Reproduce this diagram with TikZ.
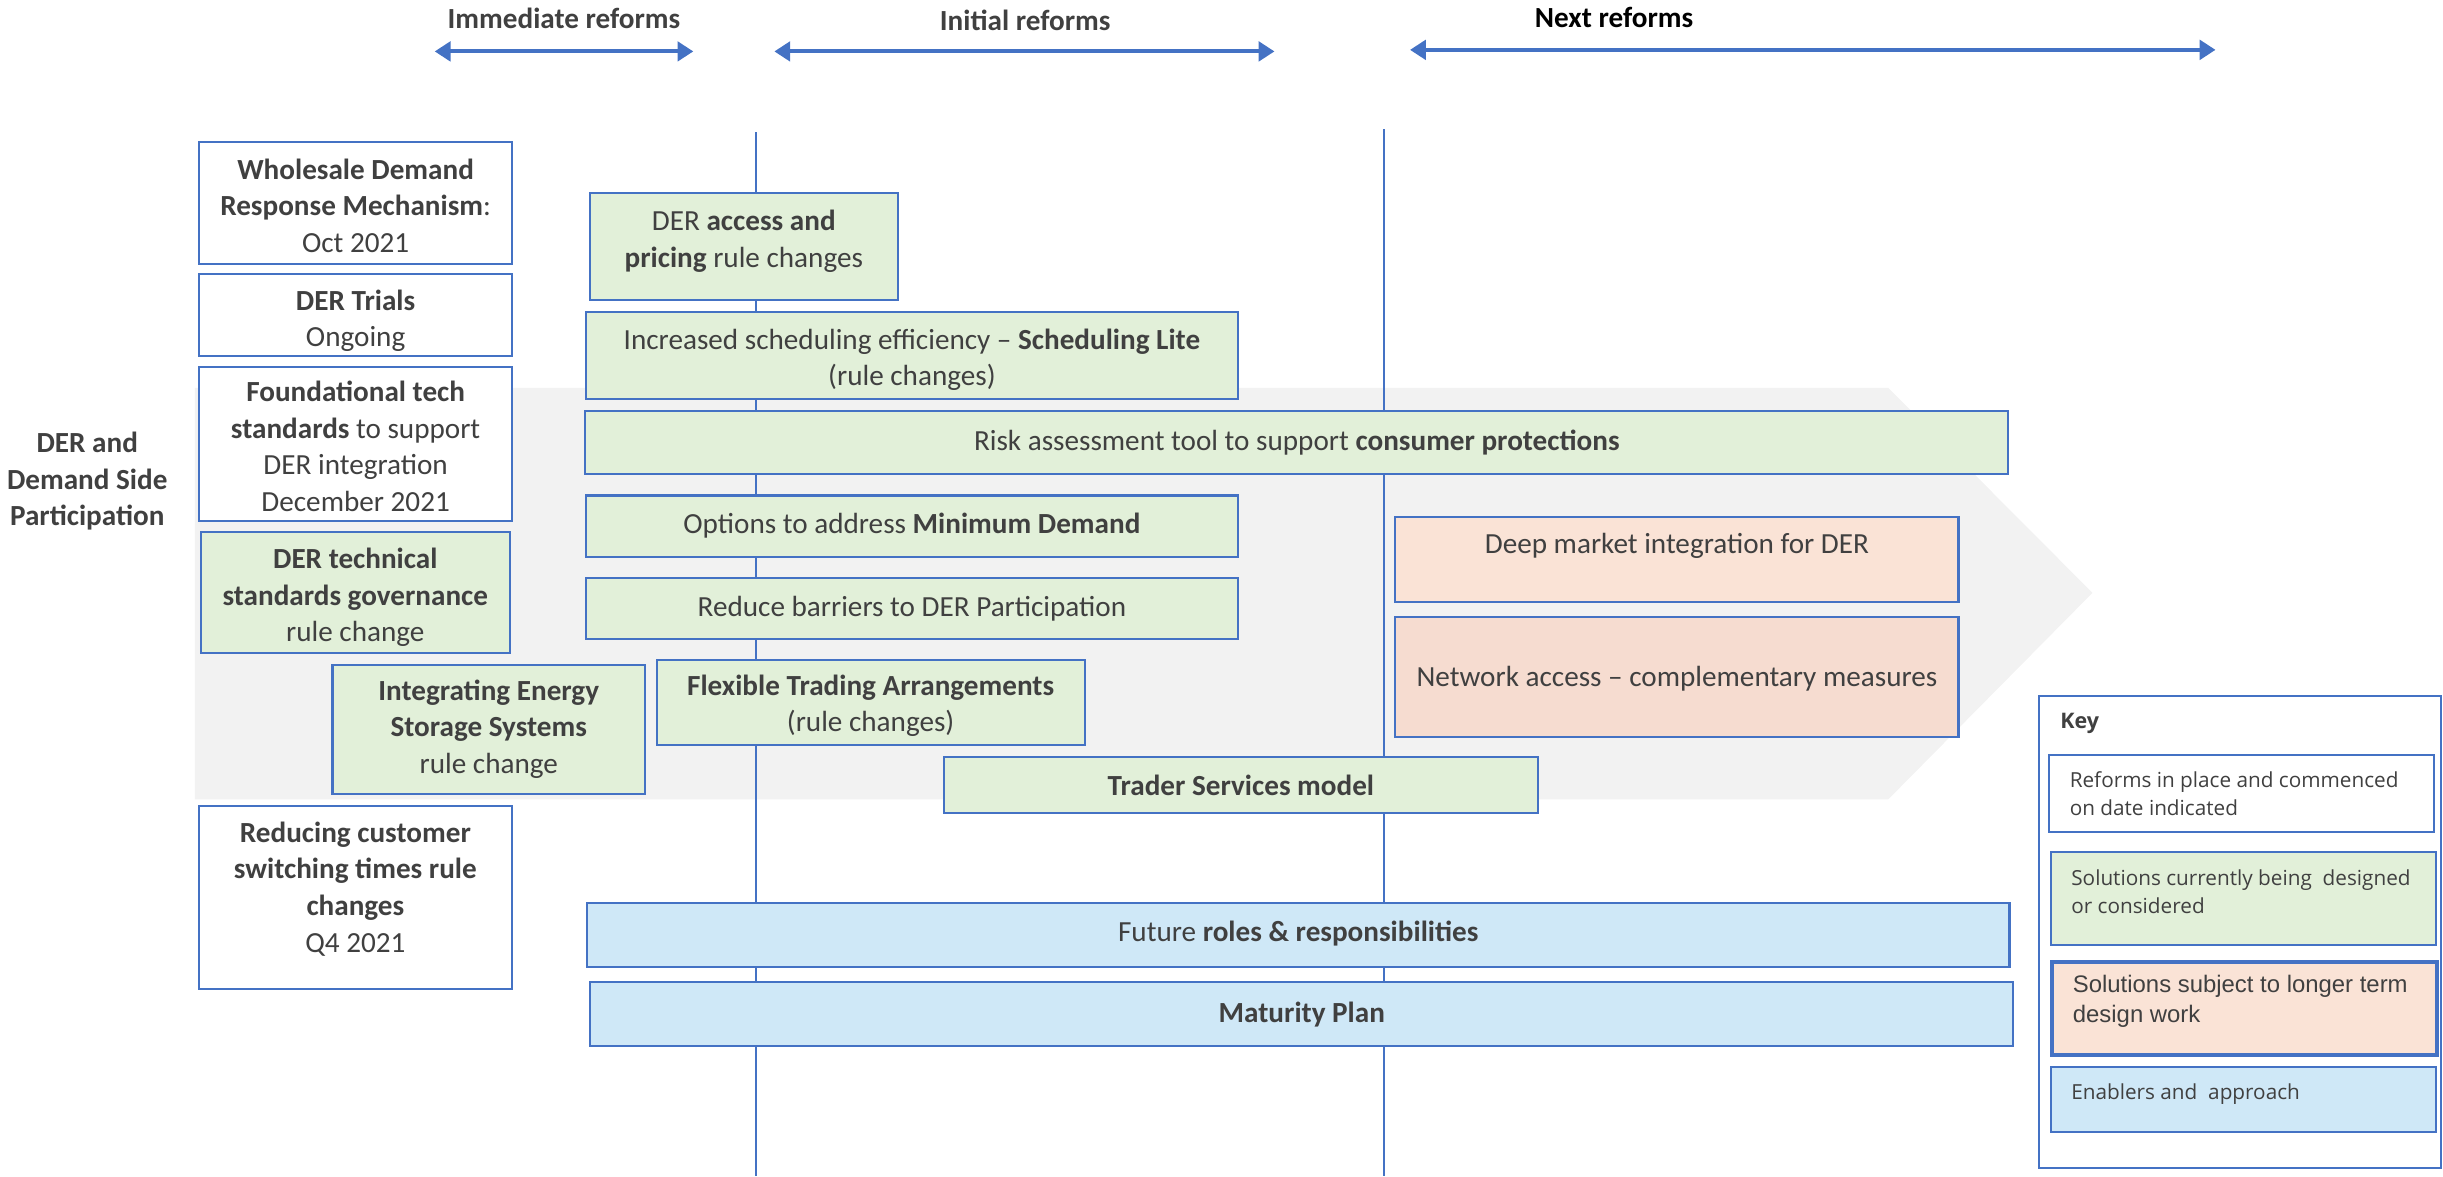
\documentclass[tikz,border=0pt]{standalone}
\usepackage{fontspec}
\setmainfont{Carlito}
\newfontfamily\keyfont{Open Sans}
\newfontfamily\keyfontb{Liberation Sans}
\usetikzlibrary{arrows.meta}
\definecolor{bord}{HTML}{4472C4}
\definecolor{txt}{HTML}{404040}
\definecolor{grn}{HTML}{E2F0D9}
\definecolor{pchA}{HTML}{FAE3D6}
\definecolor{pchB}{HTML}{F6DCD0}
\definecolor{lblue}{HTML}{CFE8F7}
\definecolor{chev}{HTML}{F2F2F2}
\newcommand\mtext{\fontsize{8.3}{10.4}\selectfont}
\newcommand\ktext{\keyfont\fontsize{5.9}{8.1}\selectfont}
% box with centred text
\newcommand\bx[7]{\node[#1, minimum width={(#5-(#3))*0.4433pt}, minimum height={(#6-(#4))*0.4433pt}] (#2) at ({(#3+#5)/2},{(#4+#6)/2}) {#7};}
% box with text placed at a given height
\newcommand\bt[8]{\node[#1, minimum width={(#5-(#3))*0.4433pt}, minimum height={(#6-(#4))*0.4433pt}] (#2) at ({(#3+#5)/2},{(#4+#6)/2}) {};
  \node[align=center] (#2-t) at ({(#3+#5)/2},#7) {#8};}
\begin{document}
\begin{tikzpicture}[x=0.0155804cm,y=-0.0155804cm,
  every node/.style={font=\mtext, text=txt},
  boxbase/.style={draw=bord, line width=0.6pt, inner sep=0pt, outer sep=0pt, align=center},
  boxw/.style={boxbase, fill=white},
  boxg/.style={boxbase, fill=grn},
  boxpa/.style={boxbase, fill=pchA},
  boxpb/.style={boxbase, fill=pchB},
  boxb/.style={boxbase, fill=lblue},
  rng/.style={{Triangle[length=4.5pt,width=5.5pt]}-{Triangle[length=4.5pt,width=5.5pt]}, draw=bord, line width=1.1pt},
  tline/.style={draw=bord, line width=0.55pt},
  hdr/.style={font=\mtext\bfseries},
  keyt/.style={font=\ktext, text=txt, align=left, anchor=north west, inner sep=0pt},
]
\useasboundingbox (0,0) rectangle (1568,754.8);

% gray chevron
\fill[chev] (125,249) -- (1212,249) -- (1343,380.5) -- (1212,513) -- (125,513) -- cycle;

% headers
\node[hdr] (h1) at (362,12) {Immediate reforms};
\node[hdr] (h2) at (658,13) {Initial reforms};
\node[hdr, text=black] (h3) at (1036,11) {Next reforms};

\coordinate (a1l) at (279,33); \coordinate (a1r) at (445,33);
\coordinate (a2l) at (497,33); \coordinate (a2r) at (818,33);
\coordinate (a3l) at (905,32); \coordinate (a3r) at (1422,32);
\draw[rng] (a1l) -- (a1r);
\draw[rng] (a2l) -- (a2r);
\draw[rng] (a3l) -- (a3r);

% timeline dividers
\coordinate (v1t) at (485,85); \coordinate (v1b) at (485,755);
\coordinate (v2t) at (888,83); \coordinate (v2b) at (888,755);
\draw[tline] (v1t) -- (v1b);
\draw[tline] (v2t) -- (v2b);

% left label
\node[font=\mtext\bfseries, align=center] (lbl) at (56,309) {DER and\\Demand Side\\Participation};

% left column
\bt{boxw}{whs}{128}{91}{328.5}{169.5}{132}{\textbf{Wholesale Demand}\\\textbf{Response Mechanism}:\\Oct 2021}
\bt{boxw}{trials}{128}{176}{328.5}{228.5}{206}{\textbf{DER Trials}\\Ongoing}
\bt{boxw}{found}{128}{235.3}{328.5}{334.4}{286.5}{\textbf{Foundational tech}\\\textbf{standards} to support\\DER integration\\December 2021}
\bt{boxg}{dtsg}{128.8}{341.5}{327.3}{419.3}{383.5}{\textbf{DER technical}\\\textbf{standards governance}\\rule change}
\bt{boxg}{iess}{213.4}{426.8}{414}{509.8}{468}{\textbf{Integrating Energy}\\\textbf{Storage Systems}\\rule change}
\bt{boxw}{rcst}{127.7}{517.3}{328.5}{634.8}{570.5}{\textbf{Reducing customer}\\\textbf{switching times rule}\\\textbf{changes}\\Q4 2021}

% middle
\bt{boxg}{access}{378.4}{124}{576.4}{192.6}{155}{DER \textbf{access and}\\\textbf{pricing} rule changes}
\bt{boxg}{sched}{376}{200}{794.6}{256}{231}{Increased scheduling efficiency -- \textbf{Scheduling Lite}\\(rule changes)}
\bx{boxg}{risk}{375.7}{263.6}{1289}{304.2}{Risk assessment tool to support \textbf{consumer protections}}
\bx{boxg}{mind}{376}{318}{794.6}{357.3}{Options to address \textbf{Minimum Demand}}
\bx{boxg}{redb}{376}{370.8}{794.6}{410.3}{Reduce barriers to DER Participation}
\bt{boxg}{fta}{421.5}{423.6}{696.1}{478.2}{453}{\textbf{Flexible Trading Arrangements}\\(rule changes)}
\bx{boxg}{tsm}{606}{486}{987}{522}{\textbf{Trader Services model}}

% next reforms
\bt{boxpa}{deep}{895.6}{331.8}{1257}{386.2}{350.5}{Deep market integration for DER}
\bt{boxpb}{net}{895.6}{395.8}{1257}{472.8}{435.5}{Network access -- complementary measures}

% enablers
\bt{boxb}{future}{376.8}{579.8}{1289.7}{620.9}{599}{Future \textbf{roles \& responsibilities}}
\bx{boxb}{mat}{378.9}{630.3}{1292.2}{671.4}{\textbf{Maturity Plan}}

% key
\bx{boxw}{key}{1308.5}{446.7}{1566.8}{749.9}{}
\node[font=\keyfont\bfseries\fontsize{6.1}{8}\selectfont, anchor=west, inner sep=0pt] (key-t) at (1322,464) {Key};
\bx{boxw}{k1}{1315}{484.4}{1562}{533.8}{}
\node[keyt] (k1-t) at (1328,494.8) {Reforms in place and commenced\\on date indicated};
\bx{boxg}{k2}{1316.4}{547}{1563.7}{606.3}{}
\node[keyt] (k2-t) at (1329,557.6) {Solutions currently being\ \ designed\\or considered};
\bx{boxpa}{k3}{1317}{617.4}{1564}{677}{}
\draw[bord, line width=1pt] (k3.north west) rectangle (k3.south east);
\node[keyt, font=\keyfontb\fontsize{6.8}{8.4}\selectfont] (k3-t) at (1330,625.6) {Solutions subject to longer term\\design work};
\bx{boxb}{k4}{1316.4}{684.6}{1563.5}{726.4}{}
\node[keyt] (k4-t) at (1329,695.1) {Enablers and\ \ approach};
\end{tikzpicture}
\end{document}
